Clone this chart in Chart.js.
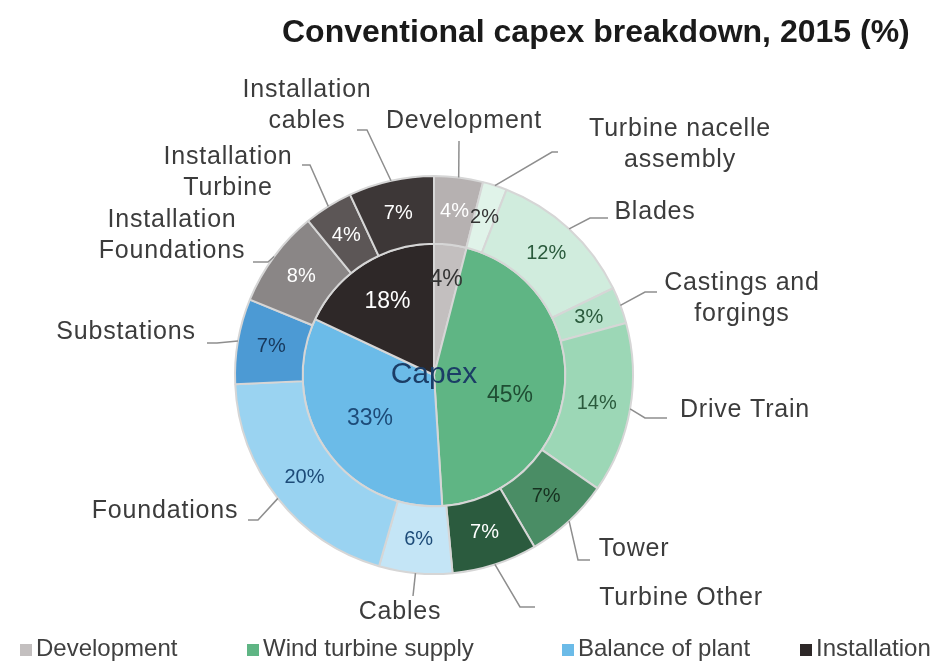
<!DOCTYPE html>
<html>
<head>
<meta charset="utf-8">
<title>Conventional capex breakdown, 2015 (%)</title>
<script src="https://cdn.jsdelivr.net/npm/chart.js@4.4.0/dist/chart.umd.min.js"></script>
<style>
  html, body { margin: 0; padding: 0; background: #fff; }
  #wrap { width: 943px; height: 661px; }
</style>
</head>
<body>
<div id="wrap"><canvas id="capexChart" width="943" height="661"></canvas></div>
<script>
// inner ring: main cost groups
const groupLabels = ['Development', 'Wind turbine supply', 'Balance of plant', 'Installation'];
const groupValues = [4, 45, 33, 18];

// outer ring: items inside each group
const partLabels = ['Development', 'Turbine nacelle assembly', 'Blades', 'Castings and forgings',
  'Drive Train', 'Tower', 'Turbine Other', 'Cables', 'Foundations', 'Substations',
  'Installation Foundations', 'Installation Turbine', 'Installation cables'];
const partValues = [4, 2, 12, 3, 14, 7, 7, 6, 20, 7, 8, 4, 7];

const groupColors = ['#c3bfbf', '#5fb584', '#6bbbe8', '#2e2828'];
const partColors = ['#b6b1b1', '#e0f3e9', '#d0ecdd', '#bae3cd', '#9cd7b6', '#4a8d65', '#2b5b3e',
  '#c4e5f6', '#9ad3f1', '#4c9ad4', '#8a8686', '#5c5656', '#3d3737'];

// text colour of the % labels
const groupPctColors = ['#333333', '#1f4d33', '#1d4b78', '#ffffff'];
const partPctColors = ['#ffffff', '#333333', '#2a5a3c', '#2a5a3c', '#2a5a3c', '#16301f', '#ffffff',
  '#1d4b78', '#1d4b78', '#17385c', '#ffffff', '#ffffff', '#ffffff'];
// where the inner % labels sit: share of the pie radius, and a turn in degrees
const groupPctRadius = [0.73, 0.6, 0.59, 0.66];
const groupPctTurn = [0, 10, 0, 0];

// callout text and leader line bends for the outer ring
const callouts = [
  { lines: ['Development'], x: 464, y: 121, path: [[459, 141]] },
  { lines: ['Turbine nacelle', 'assembly'], x: 680, y: 129, path: [[552, 152], [558, 152]] },
  { lines: ['Blades'], x: 655, y: 212, path: [[590, 218], [608, 218]] },
  { lines: ['Castings and', 'forgings'], x: 742, y: 283, path: [[645, 292], [657, 292]] },
  { lines: ['Drive Train'], x: 745, y: 410, path: [[645, 418], [667, 418]] },
  { lines: ['Tower'], x: 634, y: 549, path: [[578, 560], [590, 560]] },
  { lines: ['Turbine Other'], x: 681, y: 598, path: [[520, 607], [535, 607]] },
  { lines: ['Cables'], x: 400, y: 612, path: [[413, 596]] },
  { lines: ['Foundations'], x: 165, y: 511, path: [[258, 520], [248, 520]] },
  { lines: ['Substations'], x: 126, y: 332, path: [[217, 343], [207, 343]] },
  { lines: ['Installation', 'Foundations'], x: 172, y: 220, path: [[268, 262], [253, 262]] },
  { lines: ['Installation', 'Turbine'], x: 228, y: 157, path: [[310, 165], [302, 165]] },
  { lines: ['Installation', 'cables'], x: 307, y: 90, path: [[367, 130], [357, 130]] }
];

// legend square positions along the bottom row
const legendX = [20, 247, 562, 800];

const FONT = "'Liberation Sans', Arial, sans-serif";

const capexLabels = {
  id: 'capexLabels',
  afterDatasetsDraw(chart) {
    const ctx = chart.ctx;
    ctx.save();

    // % labels, outer ring
    const outer = chart.getDatasetMeta(0).data;
    ctx.font = '20px ' + FONT;
    ctx.textAlign = 'center';
    ctx.textBaseline = 'middle';
    outer.forEach((arc, i) => {
      const p = arc.tooltipPosition();
      ctx.fillStyle = partPctColors[i];
      ctx.fillText(partValues[i] + '%', p.x, p.y);
    });

    // % labels, inner pie
    const inner = chart.getDatasetMeta(1).data;
    ctx.font = '23px ' + FONT;
    inner.forEach((arc, i) => {
      const {x, y, startAngle, endAngle, outerRadius} = arc.getProps(['x', 'y', 'startAngle', 'endAngle', 'outerRadius']);
      const mid = (startAngle + endAngle) / 2 + groupPctTurn[i] * Math.PI / 180;
      const r = outerRadius * groupPctRadius[i];
      ctx.fillStyle = groupPctColors[i];
      ctx.fillText(groupValues[i] + '%', x + Math.cos(mid) * r, y + Math.sin(mid) * r);
    });

    // centre caption
    const c = inner[0].getProps(['x', 'y']);
    ctx.font = '30px ' + FONT;
    ctx.fillStyle = '#1b3d66';
    ctx.fillText('Capex', c.x, c.y);

    // leader lines
    ctx.strokeStyle = '#8e8e8e';
    ctx.lineWidth = 1.5;
    outer.forEach((arc, i) => {
      const {x, y, startAngle, endAngle, outerRadius} = arc.getProps(['x', 'y', 'startAngle', 'endAngle', 'outerRadius']);
      const mid = (startAngle + endAngle) / 2;
      ctx.beginPath();
      ctx.moveTo(x + Math.cos(mid) * outerRadius, y + Math.sin(mid) * outerRadius);
      callouts[i].path.forEach(pt => ctx.lineTo(pt[0], pt[1]));
      ctx.stroke();
    });

    // callout names
    ctx.font = '25px ' + FONT;
    ctx.letterSpacing = '0.8px';
    ctx.fillStyle = '#3c3c3c';
    callouts.forEach(co => {
      co.lines.forEach((line, k) => ctx.fillText(line, co.x, co.y + k * 31));
    });

    // title
    ctx.letterSpacing = '0px';
    ctx.font = 'bold 32px ' + FONT;
    ctx.fillStyle = '#1a1a1a';
    ctx.textAlign = 'left';
    ctx.textBaseline = 'alphabetic';
    ctx.fillText('Conventional capex breakdown, 2015 (%)', 282, 42);

    // legend row
    ctx.font = '24px ' + FONT;
    ctx.textBaseline = 'middle';
    groupLabels.forEach((lbl, i) => {
      ctx.fillStyle = groupColors[i];
      ctx.fillRect(legendX[i], 644, 12, 12);
      ctx.fillStyle = '#404040';
      ctx.fillText(lbl, legendX[i] + 16, 649);
    });

    ctx.restore();
  }
};

const capexChart = new Chart(document.getElementById('capexChart'), {
  type: 'pie',
  data: {
    labels: partLabels,
    datasets: [
      {
        label: 'Items',
        data: partValues,
        backgroundColor: partColors,
        borderColor: '#d6d6d6',
        borderWidth: 2,
        weight: 68
      },
      {
        label: 'Groups',
        data: groupValues,
        backgroundColor: groupColors,
        borderColor: '#d6d6d6',
        borderWidth: 2,
        weight: 132
      }
    ]
  },
  options: {
    responsive: false,
    animation: false,
    devicePixelRatio: 1,
    layout: { padding: { left: 234, right: 309, top: 175, bottom: 86 } },
    plugins: {
      legend: { display: false },
      tooltip: { enabled: false },
      title: { display: false }
    }
  },
  plugins: [capexLabels]
});
</script>
</body>
</html>
